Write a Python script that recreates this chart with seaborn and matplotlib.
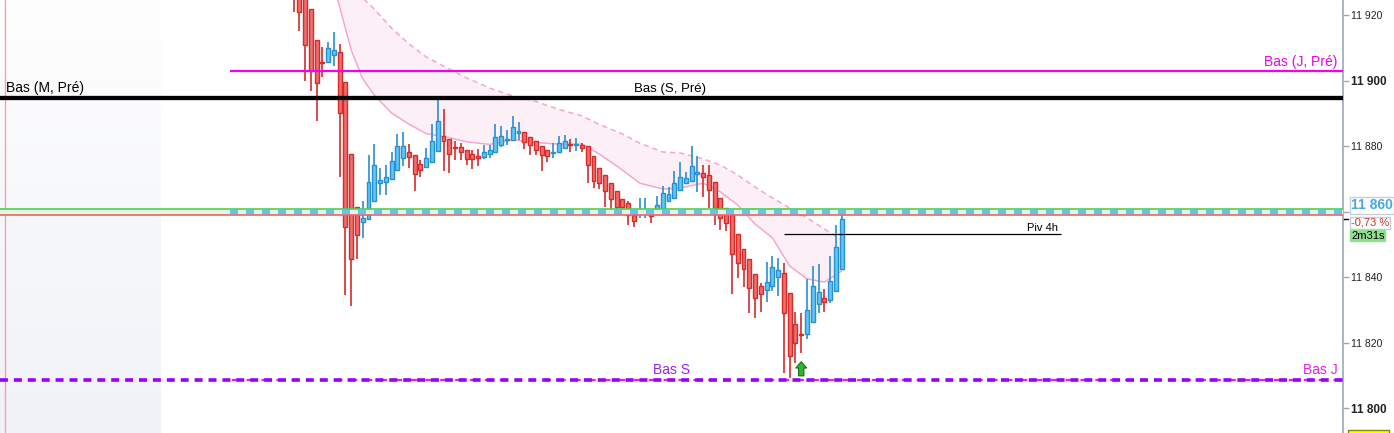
import numpy as np
import pandas as pd
import matplotlib
matplotlib.use("Agg")
import matplotlib.pyplot as plt
import matplotlib.transforms as mtransforms
from matplotlib.colors import LinearSegmentedColormap
from matplotlib.patches import Rectangle
import seaborn as sns

# Bougies (indice 0 = première bougie visible), prix
opens = [11935, 11929, 11926, 11921.7, 11912.3, 11905.8, 11905.8, 11907.7, 11908.6, 11899.5,
         11877.5, 11861.3, 11856.9, 11857.7, 11863.2, 11868.7, 11869.0, 11869.9, 11872.6, 11876.3,
         11878.1, 11877.2, 11874.5, 11873.5, 11875.1, 11878.4, 11883.0, 11882.1, 11879.8, 11879.6,
         11878.7, 11877.5, 11876.7, 11876.6, 11877.5, 11878.1, 11880.3, 11881.8, 11881.8, 11883.9,
         11884.2, 11882.7, 11881.5, 11880.0, 11878.7, 11877.8, 11878.1, 11879.3, 11880.7, 11880.4,
         11880.3, 11880.0, 11876.9, 11873.2, 11871.1, 11868.7, 11866.2, 11863.8, 11862.6, 11858.9,
         11859.2, 11860.2, 11859.0, 11859.5, 11860.7, 11863.2, 11864.1, 11866.6, 11868.7, 11869.3,
         11871.6, 11871.7, 11871.1, 11869.0, 11864.1, 11861.0, 11858.9, 11853.1, 11848.5, 11845.5,
         11840.9, 11837.2, 11836.0, 11837.2, 11840.0, 11841.2, 11835.1, 11825.6, 11822.7, 11822.6,
         11826.3, 11831.7, 11833.6, 11833.0, 11835.7, 11842.4]
highs = [11937, 11930, 11927, 11921.7, 11912.3, 11910.1, 11911.8, 11914.8, 11911.2, 11899.5,
         11877.5, 11861.3, 11863.2, 11877.2, 11880.6, 11873.2, 11874.1, 11878.1, 11883.6, 11884.2,
         11880.6, 11877.2, 11875.7, 11879.3, 11886.7, 11894.3, 11891.2, 11882.1, 11881.5, 11880.9,
         11878.7, 11878.7, 11879.0, 11880.3, 11880.3, 11886.7, 11886.0, 11884.8, 11889.1, 11887.3,
         11884.2, 11882.7, 11881.5, 11880.0, 11878.7, 11880.9, 11883.0, 11883.4, 11882.1, 11882.4,
         11880.9, 11880.0, 11876.9, 11873.2, 11871.1, 11868.7, 11866.2, 11863.8, 11863.2, 11858.9,
         11864.1, 11864.1, 11860.4, 11864.7, 11867.7, 11867.6, 11872.4, 11875.1, 11872.1, 11880.0,
         11877.0, 11874.2, 11874.2, 11869.0, 11864.1, 11861.0, 11858.9, 11853.1, 11848.5, 11845.5,
         11840.9, 11838.2, 11844.6, 11846.4, 11845.8, 11844.3, 11835.1, 11829.3, 11829.0, 11839.4,
         11843.3, 11843.9, 11836.3, 11846.4, 11855.8, 11859.2]
lows = [11921, 11915.2, 11900.0, 11896.9, 11887.8, 11901.2, 11905.8, 11904.5, 11870.7, 11834.7,
        11831.3, 11845.4, 11852.1, 11857.7, 11863.2, 11865.0, 11865.0, 11869.9, 11872.6, 11873.8,
        11873.2, 11866.2, 11870.5, 11873.2, 11875.1, 11878.4, 11872.3, 11871.7, 11875.7, 11875.7,
        11874.1, 11872.9, 11873.8, 11876.0, 11876.3, 11878.1, 11879.6, 11880.3, 11881.8, 11881.8,
        11879.0, 11877.2, 11877.2, 11872.3, 11875.1, 11876.3, 11878.1, 11879.3, 11878.1, 11878.6,
        11878.1, 11868.7, 11867.3, 11866.9, 11861.3, 11860.1, 11858.9, 11860.1, 11855.8, 11855.2,
        11858.0, 11858.0, 11856.5, 11859.5, 11860.7, 11863.2, 11864.1, 11866.6, 11868.7, 11869.3,
        11866.1, 11864.6, 11861.0, 11855.8, 11854.3, 11854.0, 11834.8, 11839.7, 11837.1, 11829.2,
        11827.4, 11829.5, 11832.4, 11835.8, 11834.4, 11810.9, 11809.2, 11813.7, 11817.0, 11821.1,
        11826.3, 11829.0, 11829.3, 11832.0, 11835.7, 11842.4]
closes = [11928, 11920.8, 11910.8, 11903.0, 11899.3, 11905.4, 11909.8, 11909.2, 11890.0, 11855.4,
          11845.5, 11852.8, 11858.0, 11869.0, 11874.1, 11869.6, 11870.5, 11875.4, 11880.0, 11880.0,
          11876.6, 11871.4, 11872.6, 11876.3, 11881.5, 11887.6, 11881.5, 11877.5, 11879.5, 11878.1,
          11876.0, 11876.0, 11876.5, 11878.1, 11878.7, 11882.7, 11883.0, 11882.1, 11885.7, 11884.5,
          11881.2, 11880.3, 11878.7, 11877.2, 11876.9, 11878.1, 11880.9, 11881.5, 11880.4, 11880.7,
          11879.3, 11874.2, 11869.4, 11868.7, 11866.2, 11863.8, 11861.3, 11861.3, 11858.9, 11857.1,
          11860.7, 11860.5, 11858.8, 11862.0, 11865.6, 11865.3, 11868.7, 11870.7, 11870.2, 11873.8,
          11872.0, 11870.5, 11866.5, 11861.0, 11858.0, 11856.5, 11847.0, 11844.3, 11842.4, 11836.6,
          11833.6, 11834.8, 11838.5, 11843.0, 11842.1, 11829.0, 11815.9, 11819.8, 11822.4, 11829.9,
          11837.2, 11835.4, 11832.4, 11838.8, 11849.1, 11857.7]

# Enveloppe (bande rose) : bord bas (trait plein) et bord haut (pointillé)
env_idx = [6, 8, 10, 12, 14, 17, 20, 23, 27, 30, 34, 38, 42, 46, 50, 53, 57, 60, 64,
           67, 71, 74, 77, 80, 83, 86, 89, 92, 95]
env_low = [11936, 11922.5, 11909.3, 11900.5, 11895.6, 11890.1, 11886.7, 11883.8, 11882.6,
           11881.3, 11880.5, 11881.9, 11881.1, 11880.6, 11880.6, 11877.6, 11872.7, 11868.7,
           11866.9, 11867.2, 11868.7, 11866.0, 11862.0, 11856.2, 11852.0, 11843.4, 11839.5,
           11838.5, 11841.9]
env_high = [11940, 11933, 11929, 11925.2, 11921.8, 11916.0, 11911.2, 11907.2, 11903.5,
            11900.8, 11897.7, 11895.3, 11893.6, 11891.2, 11889.2, 11886.6, 11883.7, 11880.9,
            11878.2, 11877.9, 11876.1, 11874.2, 11871.2, 11867.5, 11864.2, 11861.1, 11858.1,
            11854.7, 11851.4]

# Niveaux
bas_j_pre = 11903.0
bas_pre = 11894.7
ligne_verte = 11860.9
ligne_rouge = 11859.1
piv_4h = 11853.2
bas_s_j = 11808.5
debut_jour = -11          # début des niveaux du jour
fin_zone_grise = -23      # fin de la zone de fermeture
repere_session = -50
piv_debut, piv_fin = 85, 133
signal_idx, signal_bas, signal_haut = 88, 11809.9, 11814.2

y_ticks = [11800, 11820, 11840, 11860, 11880, 11900, 11920]

sns.set_theme(style="white")
plt.rcParams['font.family'] = ['Liberation Sans', 'DejaVu Sans']

fig = plt.figure(figsize=(13.94, 4.33), dpi=100)
ax = fig.add_axes([0, 0, 1343 / 1394, 1])
x0, x1 = -50.87, 181.9
y0, y1 = 11792.46, 11924.58

# zone grise à gauche (dégradé)
grad = np.linspace(0, 1, 200).reshape(-1, 1)
cmap = LinearSegmentedColormap.from_list("gris", ["#fefefe", "#f0f2f8"])
ax.imshow(grad, extent=[x0, fin_zone_grise, y0, y1], aspect='auto', cmap=cmap,
          origin='upper', zorder=0)
ax.axvline(repere_session, color="#f4a3a3", lw=1, zorder=1)

# enveloppe
ax.fill_between(env_idx, env_low, env_high, where=np.array(env_low) < np.array(env_high),
                color="#fcf0f6", lw=0, zorder=1)
env = pd.DataFrame({"idx": env_idx, "bas": env_low, "haut": env_high})
sns.lineplot(data=env, x="idx", y="bas", ax=ax, color="#f7a6cf", lw=1.1, zorder=2)
sns.lineplot(data=env, x="idx", y="haut", ax=ax, color="#f7a6cf", lw=1.1, zorder=2,
             linestyle=(0, (3.5, 2.5)))

# bougies
df = pd.DataFrame({"o": opens, "h": highs, "l": lows, "c": closes})
df["idx"] = np.arange(len(df))
hausse = df["c"] >= df["o"]
fill = np.where(hausse, "#5cc8f5", "#f46b6b")
edge = np.where(hausse, "#2a8ed0", "#d42b2b")
ax.vlines(df["idx"], df["l"], df["h"], colors=edge, lw=1.2, zorder=3)
corps = np.maximum((df["c"] - df["o"]).abs(), 0.35)
ax.bar(df["idx"], corps, bottom=np.minimum(df["o"], df["c"]), width=0.68,
       color=fill, edgecolor=edge, linewidth=1.0, zorder=4)

# niveaux horizontaux
ax.axhspan(ligne_rouge, ligne_verte, color="#e2f6e2", lw=0, zorder=5)
ax.hlines((ligne_rouge + ligne_verte) / 2, debut_jour, x1, color="#5ec5f8", lw=3.2,
          linestyles=(0, (1.8, 1.8)), zorder=5)
ax.axhline(ligne_verte, color="#4fcf4f", lw=1.2, zorder=6)
ax.axhline(ligne_rouge, color="#ee6262", lw=1.2, zorder=6)
ax.hlines(bas_j_pre, debut_jour, x1, color="#f500ee", lw=1.6, zorder=6)
ax.axhline(bas_pre, color="black", lw=3.1, zorder=6)
ax.hlines(bas_s_j, debut_jour, x1, color="#e81ee8", lw=1.6,
          linestyles=(5.9, (2.9, 3.8)), zorder=6)
ax.axhline(bas_s_j, color="#9b00f5", lw=2.6, ls=(0, (2.2, 1.65)), zorder=7)
ax.hlines(piv_4h, piv_debut, piv_fin, color="black", lw=0.9, zorder=6)

# textes des niveaux
ax.text(x0 + 1.0, bas_pre + 0.8, "Bas (M, Pré)", fontsize=10, color="black",
        ha="left", va="bottom", zorder=8)
ax.text(65.3, bas_pre + 0.8, "Bas (S, Pré)", fontsize=9.5, color="black",
        ha="center", va="bottom", zorder=8)
ax.text(181.0, bas_j_pre + 0.5, "Bas (J, Pré)", fontsize=10, color="#f000ea",
        ha="right", va="bottom", zorder=8)
ax.text(65.6, bas_s_j + 0.9, "Bas S", fontsize=10, color="#9b1ff0",
        ha="center", va="bottom", zorder=8)
ax.text(181.0, bas_s_j + 0.9, "Bas J", fontsize=10, color="#e81ee8",
        ha="right", va="bottom", zorder=8)
ax.text(132.5, piv_4h + 0.4, "Piv 4h", fontsize=8, color="black",
        ha="right", va="bottom", zorder=8)

# flèche de signal
ax.annotate("", xy=(signal_idx, signal_haut), xytext=(signal_idx, signal_bas),
            arrowprops=dict(arrowstyle="simple,head_length=0.45,head_width=0.78,tail_width=0.38",
                            mutation_scale=10, fc="#2fb52f", ec="#1c6b1c", lw=0.8,
                            shrinkA=0, shrinkB=0), zorder=8)

ax.set_xlim(x0, x1)
ax.set_ylim(y0, y1)

# axe des prix à droite
ax.yaxis.tick_right()
labels = ["" if t == 11860 else f"{t:,}".replace(",", " ") for t in y_ticks]
ax.set_yticks(y_ticks, labels)
for t, lab in zip(y_ticks, ax.get_yticklabels()):
    if t % 100 == 0:
        lab.set_fontweight("bold")
        lab.set_fontsize(8.5)
    else:
        lab.set_fontsize(7.5)
ax.tick_params(axis="y", which="both", right=True, length=4, width=1, color="#9aa8b8",
               labelcolor="#222222", pad=2)
ax.set_xticks([])
for s in ["top", "left", "bottom"]:
    ax.spines[s].set_visible(False)
ax.spines["right"].set_color("#9aa8b8")
ax.spines["right"].set_linewidth(1.2)
ax.set_xlabel("")
ax.set_ylabel("")

# étiquettes de prix
tr = mtransforms.blended_transform_factory(ax.transAxes, ax.transData)
ax.plot([1.0, 1.004], [closes[-1], closes[-1]], transform=tr, color="black", lw=1,
        clip_on=False)
ax.text(1.006, ligne_verte + 1.0, "11 860", transform=tr, fontsize=10, fontweight="bold",
        color="#46a6e6", ha="left", va="center", clip_on=False,
        bbox=dict(boxstyle="square,pad=0.08", fc="white", ec="#c5ced8", lw=1))
ax.annotate("-0,73 %", xy=(1.006, ligne_verte + 1.0), xycoords=tr, xytext=(0, -12.6),
            textcoords="offset points", fontsize=8, color="#c0392b", ha="left", va="center",
            annotation_clip=False,
            bbox=dict(boxstyle="square,pad=0.06", fc="white", ec="#c5ced8", lw=1))
ax.annotate("2m31s", xy=(1.006, ligne_verte + 1.0), xycoords=tr, xytext=(0, -21.8),
            textcoords="offset points", fontsize=8, color="black", ha="left", va="center",
            annotation_clip=False,
            bbox=dict(boxstyle="square,pad=0.06", fc="#8ee08e", ec="#8ee08e", lw=1))
# étiquette jaune coupée en bas de l'axe
ax.add_patch(Rectangle((1.004, y0 - 3), 0.03, 3 + 0.85, transform=tr, fc="#ffff00",
                       ec="#888800", lw=1, clip_on=False))

fig.savefig("out.png", dpi=100)
